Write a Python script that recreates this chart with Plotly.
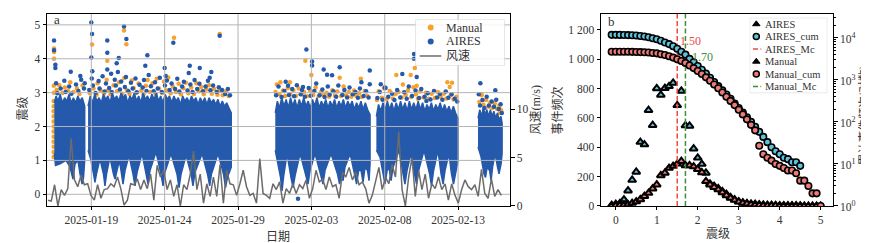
import numpy as np
import pandas as pd
import plotly.graph_objects as go

W, H = 869, 243
FONT = "Liberation Serif, Noto Sans CJK SC, serif"
TXT = "#333333"
BLUE = "#2459ab"
ORANGE = "#f9a12b"
GRID = "#b4b4b4"

# ---------------- panel a data ----------------
T0 = pd.Timestamp("2025-01-15 23:30")          # day offsets below are counted from here
X_RANGE = ["2025-01-15 23:30", "2025-02-16 12:55"]
date_ticks = ["2025-01-19", "2025-01-24", "2025-01-29", "2025-02-03", "2025-02-08", "2025-02-13"]
mag_ticks = [0, 1, 2, 3, 4, 5]
wind_ticks = [0, 5, 10]

wind_start, wind_end = "2025-01-16 01:05", "2025-02-15 22:45"
wind_speed = [0.6, 0.5, 2.2, 0.0, 1.7, 1.1, 1.8, 7.0, 2.7, 2.0, 3.2, 2.2, 2.3, 1.1, 0.6, 2.2,
              0.8, 1.7, 1.8, 2.3, 2.0, 3.0, 1.8, 0.1, 0.6, 2.3, 2.2, 2.8, 1.7, 2.7, 1.8, 3.3,
              0.6, 4.2, 3.0, 3.7, 1.7, 2.7, 1.0, 2.2, 0.0, 2.2, 1.7, 3.3, 5.7, 1.7, 3.3, 0.3,
              2.3, 1.0, 3.0, 1.0, 4.3, 0.3, 3.7, 2.3, 2.2, 1.1, 2.3, 3.7, 2.0, 1.1, 1.3, 0.3,
              4.9, 1.3, 1.1, 0.8, 2.3, 1.7, 2.5, 0.3, 1.8, 1.3, 2.3, 1.3, 2.2, 1.8, 2.7, 0.8,
              1.8, 3.7, 2.5, 2.8, 1.7, 3.0, 2.0, 2.2, 0.8, 3.5, 3.0, 4.0, 2.7, 3.5, 2.2, 2.5,
              1.8, 0.3, 1.1, 2.7, 4.0, 1.7, 3.0, 2.3, 4.3, 3.0, 7.7, 1.7, 0.0, 3.0, 5.0, 1.0,
              3.7, 1.7, 3.3, 0.8, 2.3, 1.8, 3.0, 1.7, 2.3, 0.6, 2.3, 1.1, 0.3, 1.7, 2.7, 2.0,
              1.7, 2.2, 1.0, 3.8, 1.3, 0.8, 2.8, 1.0, 1.7, 1.1]

# outlines of the dense AIRES event clouds: (day offset, magnitude)
cloud_1a_top = [(0.50, 2.7), (0.62, 2.9), (0.75, 2.75), (0.90, 2.95), (1.05, 2.7), (1.20, 2.85), (1.35, 2.75),
                (1.50, 2.95), (1.65, 2.7), (1.80, 2.85), (1.95, 2.7), (2.10, 2.9), (2.25, 2.75), (2.40, 2.85),
                (2.57, 2.6)]
cloud_1a_bottom = [(0.50, 1.2), (0.58, 0.85), (0.89, 0.9), (1.30, 1.0), (1.57, 0.8), (1.77, 0.45), (1.91, 0.9),
                   (2.11, 1.0), (2.25, 0.6), (2.39, 0.3), (2.49, 0.5), (2.57, 1.0)]
cloud_1b_top = [(2.80, 2.6), (2.95, 2.9), (3.10, 2.7), (3.25, 2.95), (3.40, 2.75), (3.55, 2.85), (3.70, 2.7),
                (3.85, 2.95), (4.00, 2.8), (4.15, 2.9), (4.30, 2.7), (4.45, 3.0), (4.60, 2.8), (4.75, 2.9),
                (4.90, 2.75), (5.05, 3.0), (5.20, 2.85), (5.35, 2.95), (5.50, 2.7), (5.65, 2.9), (5.80, 2.8),
                (5.95, 3.0), (6.10, 2.75), (6.25, 2.9), (6.40, 2.7), (6.55, 3.0), (6.70, 2.8), (6.85, 2.9),
                (7.00, 2.75), (7.15, 2.95), (7.30, 2.8), (7.45, 3.0), (7.60, 2.75), (7.75, 2.9), (7.90, 2.7),
                (8.05, 2.95), (8.20, 2.8), (8.35, 2.9), (8.50, 2.7), (8.65, 2.9), (8.80, 2.75), (8.95, 2.85),
                (9.10, 2.65), (9.25, 2.9), (9.40, 2.75), (9.55, 2.85), (9.70, 2.7), (9.85, 2.9), (10.00, 2.75),
                (10.15, 2.85), (10.30, 2.65), (10.45, 2.85), (10.60, 2.7), (10.75, 2.85), (10.90, 2.65),
                (11.05, 2.85), (11.20, 2.7), (11.35, 2.8), (11.50, 2.65), (11.65, 2.8), (11.80, 2.6),
                (11.95, 2.75), (12.10, 2.6), (12.25, 2.7), (12.40, 2.55), (12.56, 2.4)]
cloud_1b_bottom = [(2.80, 1.3), (3.00, 1.0), (3.17, 0.6), (3.27, 0.35), (3.37, 0.6), (3.61, 1.05), (3.85, 0.6),
                   (3.95, 0.25), (4.06, 0.6), (4.29, 1.1), (4.53, 0.6), (4.64, 0.45), (4.77, 0.7), (4.94, 1.0),
                   (5.08, 0.6), (5.18, 0.3), (5.32, 0.7), (5.59, 1.15), (5.86, 0.6), (6.00, 0.25), (6.14, 0.65),
                   (6.48, 1.2), (6.75, 0.6), (6.89, 0.3), (7.02, 0.7), (7.43, 1.25), (7.77, 0.6), (7.91, 0.25),
                   (8.04, 0.65), (8.45, 1.2), (8.86, 0.6), (9.00, 0.2), (9.14, 0.6), (9.48, 1.15), (9.82, 0.6),
                   (9.95, 0.25), (10.09, 0.65), (10.57, 1.2), (10.94, 0.6), (11.09, 0.25), (11.21, 0.6),
                   (11.66, 1.2), (12.03, 0.6), (12.17, 0.2), (12.30, 0.5), (12.56, 0.8)]
cloud_2_top = [(15.56, 2.4), (15.70, 2.75), (15.85, 2.55), (16.00, 2.85), (16.15, 2.6), (16.30, 2.8),
               (16.45, 2.55), (16.60, 2.85), (16.75, 2.6), (16.90, 2.8), (17.05, 2.55), (17.20, 2.8),
               (17.35, 2.6), (17.50, 2.85), (17.65, 2.6), (17.80, 2.75), (17.95, 2.55), (18.10, 2.8),
               (18.25, 2.6), (18.40, 2.85), (18.55, 2.55), (18.70, 2.75), (18.85, 2.6), (19.00, 2.8),
               (19.15, 2.55), (19.30, 2.75), (19.45, 2.6), (19.60, 2.8), (19.75, 2.55), (19.90, 2.75),
               (20.05, 2.6), (20.20, 2.8), (20.35, 2.55), (20.50, 2.75), (20.65, 2.6), (20.80, 2.75),
               (20.95, 2.5), (21.10, 2.7), (21.25, 2.55), (21.40, 2.75), (21.55, 2.5), (21.70, 2.7),
               (21.85, 2.5), (22.02, 2.35)]
cloud_2_bottom = [(15.56, 1.3), (15.75, 0.9), (15.92, 0.5), (16.02, 0.1), (16.12, 0.5), (16.36, 1.2),
                  (16.63, 0.5), (16.77, 0.2), (16.91, 0.55), (17.25, 1.2), (17.62, 0.6), (17.79, 0.3),
                  (17.93, 0.7), (18.27, 1.2), (18.64, 0.6), (18.81, 0.3), (18.95, 0.7), (19.36, 1.2),
                  (19.80, 0.6), (19.94, 0.3), (20.08, 0.6), (20.18, 0.4), (20.31, 0.8), (20.66, 1.2),
                  (20.96, 0.6), (21.10, 0.3), (21.24, 0.7), (21.41, 0.7), (21.54, 0.35), (21.68, 0.8),
                  (21.85, 0.7), (21.95, 0.4), (22.02, 0.9)]
cloud_3_top = [(22.45, 2.3), (22.60, 2.65), (22.75, 2.45), (22.90, 2.7), (23.05, 2.5), (23.20, 2.75),
               (23.35, 2.5), (23.50, 2.7), (23.65, 2.45), (23.80, 2.7), (23.95, 2.5), (24.10, 2.75),
               (24.25, 2.5), (24.40, 2.7), (24.55, 2.45), (24.70, 2.75), (24.85, 2.5), (25.00, 2.7),
               (25.15, 2.5), (25.30, 2.75), (25.45, 2.5), (25.60, 2.7), (25.75, 2.45), (25.90, 2.65),
               (26.05, 2.5), (26.20, 2.7), (26.35, 2.45), (26.50, 2.65), (26.65, 2.5), (26.80, 2.7),
               (26.95, 2.45), (27.10, 2.65), (27.25, 2.45), (27.40, 2.6), (27.55, 2.4), (27.70, 2.6),
               (27.85, 2.4), (28.02, 2.25)]
cloud_3_bottom = [(22.45, 1.3), (22.70, 1.1), (22.91, 0.6), (23.04, 0.3), (23.18, 0.7), (23.31, 0.8),
                  (23.45, 0.4), (23.59, 0.8), (24.00, 1.3), (24.27, 0.6), (24.40, 0.3), (24.54, 0.7),
                  (24.81, 1.2), (25.05, 0.6), (25.19, 0.3), (25.33, 0.7), (25.70, 1.3), (26.08, 0.6),
                  (26.21, 0.25), (26.35, 0.7), (26.65, 1.3), (26.86, 0.6), (27.00, 0.3), (27.13, 0.7),
                  (27.40, 1.2), (27.57, 0.6), (27.71, 0.3), (27.85, 0.6), (28.02, 1.0)]
cloud_4_top = [(29.38, 2.25), (29.50, 2.5), (29.62, 2.3), (29.74, 2.55), (29.86, 2.35), (29.98, 2.5),
               (30.10, 2.3), (30.22, 2.5), (30.34, 2.3), (30.46, 2.45), (30.58, 2.25), (30.70, 2.4),
               (30.82, 2.2), (30.94, 2.3), (31.02, 2.1)]
cloud_4_bottom = [(29.38, 1.4), (29.59, 1.1), (29.79, 0.6), (29.89, 0.5), (30.00, 0.8), (30.17, 0.7),
                  (30.27, 0.4), (30.37, 0.8), (30.54, 1.2), (30.71, 0.8), (30.81, 0.6), (30.95, 0.9),
                  (31.02, 1.2)]

# scattered events outside the dense clouds: (day offset, magnitude)
aires_points = [(0.48, 4.54), (0.48, 4.25), (0.57, 3.82), (0.57, 3.73), (1.62, 3.62), (2.27, 3.49),
                (2.57, 3.28), (3.02, 5.07), (3.07, 4.73), (3.02, 4.04), (3.09, 3.63), (4.11, 4.54),
                (4.11, 4.18), (4.11, 3.68), (5.25, 4.95), (5.41, 4.58), (4.89, 4.02), (4.75, 3.87),
                (6.84, 4.10), (6.70, 3.79), (8.02, 3.73), (8.61, 4.47), (8.09, 3.49), (9.73, 3.79),
                (9.66, 3.58), (11.77, 4.68), (10.41, 3.73), (11.20, 3.61), (11.09, 3.44), (17.68, 4.27),
                (18.07, 3.92), (18.07, 3.80), (18.86, 3.68), (19.09, 3.53), (19.43, 3.51), (19.95, 3.75),
                (17.45, 3.17), (16.43, 3.20), (21.43, 3.31), (22.00, 3.65), (22.00, 3.25), (22.75, 3.25),
                (23.02, 3.15), (24.22, 3.55), (25.02, 4.14), (25.02, 4.00), (25.20, 3.46), (25.86, 2.75),
                (29.54, 3.28), (30.56, 3.07), (17.11, -0.13),
                (0.62, 3.28), (0.71, 2.98), (0.93, 3.12), (1.18, 3.35), (1.27, 3.02), (1.51, 3.18),
                (1.66, 2.97), (1.98, 3.24), (2.14, 3.05), (2.33, 3.38), (2.52, 3.12), (2.88, 3.08),
                (3.05, 3.42), (3.13, 3.21), (3.31, 2.99), (3.52, 3.34), (3.58, 3.12), (3.79, 3.48),
                (3.93, 3.03), (4.02, 3.27), (4.24, 3.14), (4.37, 3.56), (4.41, 3.02), (4.62, 3.38),
                (4.69, 3.21), (4.83, 3.61), (4.97, 3.09), (5.06, 3.33), (5.31, 3.17), (5.38, 3.46),
                (5.55, 3.04), (5.72, 3.29), (5.84, 3.12), (6.03, 3.42), (6.12, 3.01), (6.31, 3.23),
                (6.52, 3.15), (6.61, 3.37), (6.78, 3.05), (6.93, 3.52), (7.08, 3.19), (7.27, 3.04),
                (7.36, 3.31), (7.55, 3.12), (7.69, 3.44), (7.82, 3.02), (8.04, 3.21), (8.17, 3.36),
                (8.36, 3.08), (8.49, 3.27), (8.73, 3.11), (8.88, 3.41), (9.02, 3.03), (9.21, 3.18),
                (9.33, 3.32), (9.58, 3.06), (9.77, 3.24), (9.92, 3.02), (10.06, 3.37), (10.24, 3.11),
                (10.39, 3.26), (10.63, 3.04), (10.81, 3.18), (10.97, 3.35), (11.14, 3.07), (11.32, 3.21),
                (11.57, 3.02), (11.71, 3.16), (11.93, 3.08), (12.14, 2.96), (12.33, 3.11), (12.47, 2.92),
                (15.62, 2.92), (15.78, 3.18), (15.99, 2.87), (16.18, 3.05), (16.27, 3.32), (16.49, 2.93),
                (16.71, 3.11), (16.84, 2.89), (17.03, 3.22), (17.29, 2.95), (17.38, 3.08), (17.57, 2.88),
                (17.84, 3.14), (17.97, 2.91), (18.22, 3.05), (18.35, 3.27), (18.58, 2.92), (18.77, 3.09),
                (18.92, 2.87), (19.14, 3.18), (19.27, 2.94), (19.52, 3.04), (19.71, 2.88), (19.86, 3.21),
                (20.13, 2.93), (20.27, 3.08), (20.46, 2.86), (20.62, 3.15), (20.84, 2.95), (21.02, 3.02),
                (21.19, 2.85), (21.33, 3.12), (21.58, 2.90), (21.75, 3.04), (21.92, 2.86),
                (22.52, 2.84), (22.68, 3.02), (22.87, 2.79), (23.08, 3.14), (23.26, 2.88), (23.52, 2.97),
                (23.68, 2.78), (23.87, 3.08), (24.08, 2.86), (24.35, 3.01), (24.52, 2.82), (24.66, 3.18),
                (24.88, 2.90), (25.12, 3.06), (25.36, 2.84), (25.51, 3.11), (25.74, 2.88), (25.95, 2.98),
                (26.14, 2.80), (26.38, 3.05), (26.59, 2.86), (26.78, 2.96), (26.95, 2.79), (27.18, 3.03),
                (27.36, 2.85), (27.58, 2.95), (27.79, 2.82), (27.96, 2.74),
                (29.43, 2.95), (29.52, 2.62), (29.68, 2.78), (29.81, 2.55), (29.97, 2.88), (30.12, 2.62),
                (30.31, 2.74), (30.47, 2.58), (30.62, 2.79), (30.79, 2.52), (30.92, 2.66), (31.00, 2.40)]
manual_points = [(0.48, 4.30), (0.48, 4.20), (0.48, 4.00), (3.07, 4.42), (4.11, 3.94), (5.25, 4.83),
                 (5.41, 4.43), (8.66, 4.62), (11.77, 4.73), (17.61, 3.94), (18.02, 3.52), (19.95, 3.44),
                 (16.56, 3.31), (21.39, 3.41), (23.81, 3.52), (24.79, 3.52), (25.07, 3.73), (25.20, 3.20),
                 (27.29, 3.31), (27.61, 3.29), (27.45, 3.17), (29.61, 2.96), (30.86, 2.52), (30.86, 2.40),
                 (0.45, 1.10), (0.45, 1.25), (0.46, 1.40), (0.45, 1.55), (0.46, 1.70), (0.45, 1.85),
                 (0.46, 2.00), (0.45, 2.15), (0.46, 2.30), (0.45, 2.45), (0.46, 2.60), (0.45, 2.75),
                 (0.47, 3.00), (0.46, 3.20),
                 (0.66, 3.08), (0.84, 3.22), (1.05, 2.99), (1.22, 3.15), (1.44, 3.05), (1.58, 3.31),
                 (1.81, 3.02), (2.04, 3.12), (2.21, 2.96), (2.42, 3.21), (2.93, 2.98), (3.17, 3.12),
                 (3.38, 2.94), (3.45, 3.28), (3.66, 3.06), (3.88, 2.97), (4.07, 3.38), (4.18, 3.08),
                 (4.33, 2.95), (4.54, 3.22), (4.77, 3.04), (4.92, 3.31), (5.12, 2.97), (5.27, 3.43),
                 (5.44, 3.08), (5.63, 2.96), (5.77, 3.36), (5.91, 3.14), (6.07, 2.99), (6.24, 3.27),
                 (6.43, 3.06), (6.58, 2.95), (6.74, 3.20), (6.86, 3.37), (7.03, 3.02), (7.19, 3.28),
                 (7.41, 2.97), (7.48, 3.41), (7.63, 3.12), (7.86, 2.99), (7.97, 3.33), (8.12, 3.07),
                 (8.27, 3.45), (8.43, 2.98), (8.58, 3.18), (8.79, 3.02), (8.97, 3.26), (9.13, 2.95),
                 (9.29, 3.13), (9.46, 3.29), (9.64, 2.98), (9.83, 3.15), (10.02, 2.96), (10.18, 3.28),
                 (10.34, 3.04), (10.51, 3.17), (10.69, 2.95), (10.86, 3.09), (11.04, 3.22), (11.23, 2.97),
                 (11.39, 3.11), (11.62, 2.94), (11.77, 3.06), (11.98, 2.92), (12.19, 3.04), (12.38, 2.90),
                 (15.58, 3.02), (15.67, 3.24), (15.84, 2.95), (15.91, 3.31), (16.08, 3.06), (16.23, 2.90),
                 (16.41, 3.14), (16.58, 2.96), (16.79, 3.07), (16.97, 2.90), (17.16, 3.12), (17.34, 2.95),
                 (17.52, 3.02), (17.71, 2.89), (17.92, 3.08), (18.15, 2.93), (18.31, 3.15), (18.52, 2.90),
                 (18.69, 3.02), (18.86, 2.92), (19.05, 3.00), (19.22, 2.88), (19.45, 3.07), (19.63, 2.91),
                 (19.79, 3.03), (20.05, 2.90), (20.22, 3.18), (20.39, 2.92), (20.57, 3.02), (20.74, 2.88),
                 (20.93, 3.06), (21.08, 2.91), (21.27, 2.98), (21.46, 2.87), (21.66, 3.05), (21.84, 2.90),
                 (22.49, 2.78), (22.61, 3.04), (22.82, 2.85), (22.97, 3.12), (23.16, 2.81), (23.36, 3.05),
                 (23.57, 2.83), (23.76, 2.96), (23.95, 3.02), (24.17, 2.86), (24.26, 3.24), (24.45, 2.93),
                 (24.61, 3.08), (24.83, 2.87), (24.98, 3.16), (25.15, 2.95), (25.28, 2.82), (25.45, 3.03),
                 (25.66, 2.86), (25.83, 3.00), (26.02, 2.82), (26.22, 2.97), (26.44, 2.84), (26.63, 3.02),
                 (26.83, 2.88), (27.04, 2.97), (27.22, 2.83), (27.51, 2.92), (27.71, 2.80), (27.90, 2.88),
                 (29.47, 2.72), (29.63, 2.92), (29.75, 2.64), (29.93, 2.78), (30.08, 2.58), (30.22, 2.71),
                 (30.36, 2.55), (30.52, 2.68), (30.68, 2.52), (30.83, 2.62), (30.95, 2.48)]

# ---------------- panel b data ----------------
mag_bins = [-0.1, 0.0, 0.1, 0.2, 0.3, 0.4, 0.5, 0.6, 0.7, 0.8, 0.9, 1.0, 1.1, 1.2, 1.3, 1.4, 1.5,
            1.6, 1.7, 1.8, 1.9, 2.0, 2.1, 2.2, 2.3, 2.4, 2.5, 2.6, 2.7, 2.8, 2.9, 3.0, 3.1, 3.2,
            3.3, 3.4, 3.5, 3.6, 3.7, 3.8, 3.9, 4.0, 4.1, 4.2, 4.3, 4.4, 4.5, 4.6, 4.7, 4.8, 4.9, 5.0]
aires_count = [5, 12, 18, 44, 104, 177, 232, 435, 418, 652, 550, 800, 756, 802, 815, 838, 685, 783,
               548, 545, 390, 328, 285, 225, 150, 135, 120, 100, 80, 58, 44, 30, 22, 18, 14, 12, 9,
               7, 6, 5, 4, 3, 3, 2, 2, 2, 1]
manual_count = [0, 2, 4, 6, 10, 20, 30, 45, 67, 88, 118, 145, 208, 225, 258, 272, 287, 305, 276,
                276, 268, 250, 228, 168, 145, 128, 112, 92, 72, 54, 40, 28, 20, 15, 10, 8, 6, 3, 2,
                2, 2, 1, 1, 0, 0, 1, 1, 1, 0, 1, 0, 1]
aires_cum = [11750, 11750, 11740, 11640, 11590, 11480, 11350, 11090, 10720, 10350, 9770, 9230, 8510,
             7760, 7080, 6310, 5500, 4680, 3980, 3160, 2630, 2140, 1740, 1410, 1120, 890, 708, 562,
             447, 355, 275, 214, 166, 129, 100, 76, 58, 44, 33, 25, 20, 17, 14, 13, 11, 11, 9]
manual_cum = [4680, 4680, 4680, 4670, 4656, 4634, 4603, 4571, 4519, 4467, 4365, 4266, 4074, 3890,
              3631, 3388, 3090, 2818, 2512, 2188, 1905, 1622, 1380, 1148, 955, 776, 631, 501, 398,
              316, 251, 195, 151, 115, 85, 63, 27, 17, 14, 12, 10, 9, 8, 7, 7, 6, 4, 4, 3, 2, 2, 1]
mc_aires, mc_manual = 1.50, 1.70
count_ticks = [0, 200, 400, 600, 800, 1000, 1200]
count_ticktext = ["0", "200", "400", "600", "800", "1 000", "1 200"]
cum_ticks = [1, 10, 100, 1000, 10000]
cum_exponents = ["0", "1", "2", "3", "4"]

RED, GREEN = "#ee4a3f", "#3b8f3b"
SKY, SALMON = "#5ec4de", "#ee7b78"


def at_days(offsets):
    return T0 + pd.to_timedelta(np.asarray(offsets, dtype=float), unit="D")


fig = go.Figure()

# ---- panel a ----
mt, mm = zip(*manual_points)
fig.add_trace(go.Scatter(x=at_days(mt), y=mm, mode="markers", xaxis="x", yaxis="y",
                         marker=dict(size=4.5, color=ORANGE), hoverinfo="skip"))
for top, bottom in [(cloud_1a_top, cloud_1a_bottom), (cloud_1b_top, cloud_1b_bottom),
                    (cloud_2_top, cloud_2_bottom), (cloud_3_top, cloud_3_bottom),
                    (cloud_4_top, cloud_4_bottom)]:
    pts = list(top) + list(reversed(bottom))
    pt, pm = zip(*pts)
    fig.add_trace(go.Scatter(x=at_days(pt), y=pm, mode="lines", fill="toself", fillcolor=BLUE,
                             line=dict(color=BLUE, width=1.5), xaxis="x", yaxis="y", hoverinfo="skip"))
at, am = zip(*aires_points)
fig.add_trace(go.Scatter(x=at_days(at), y=am, mode="markers", xaxis="x", yaxis="y",
                         marker=dict(size=4.5, color=BLUE), hoverinfo="skip"))
# grid lines above the scatter (as in the source)
gx, gy = [], []
for d in date_ticks:
    gx += [pd.Timestamp(d), pd.Timestamp(d), None]
    gy += [-1, 6, None]
fig.add_trace(go.Scatter(x=gx, y=gy, mode="lines", line=dict(color=GRID, width=1),
                         xaxis="x", yaxis="y", hoverinfo="skip"))
hx, hy = [], []
for m in mag_ticks:
    hx += [pd.Timestamp(X_RANGE[0]), pd.Timestamp(X_RANGE[1]), None]
    hy += [m, m, None]
fig.add_trace(go.Scatter(x=hx, y=hy, mode="lines", line=dict(color=GRID, width=1),
                         xaxis="x", yaxis="y", hoverinfo="skip"))
wind_t = pd.date_range(wind_start, wind_end, periods=len(wind_speed))
fig.add_trace(go.Scatter(x=wind_t, y=wind_speed, mode="lines", xaxis="x", yaxis="y2",
                         line=dict(color="#6b6b6b", width=1.5), hoverinfo="skip"))

# ---- panel b ----
fig.add_trace(go.Scatter(x=mag_bins[:len(aires_count)], y=aires_count, mode="markers", xaxis="x3", yaxis="y3",
                         marker=dict(symbol="triangle-up", size=7, color=SKY, line=dict(color="black", width=2)),
                         hoverinfo="skip"))
fig.add_trace(go.Scatter(x=mag_bins[:len(manual_count)], y=manual_count, mode="markers", xaxis="x3", yaxis="y3",
                         marker=dict(symbol="triangle-up", size=7, color=SALMON, line=dict(color="black", width=2)),
                         hoverinfo="skip"))
for mc, col in [(mc_aires, RED), (mc_manual, GREEN)]:
    fig.add_trace(go.Scatter(x=[mc, mc], y=[0, 1400], mode="lines", xaxis="x3", yaxis="y3",
                             line=dict(color=col, width=1.5, dash="5px,2.5px"), hoverinfo="skip"))
fig.add_trace(go.Scatter(x=mag_bins[:len(aires_cum)], y=aires_cum, mode="markers", xaxis="x3", yaxis="y4",
                         marker=dict(symbol="circle", size=6.5, color=SKY, line=dict(color="black", width=1.6)),
                         hoverinfo="skip"))
fig.add_trace(go.Scatter(x=mag_bins[:len(manual_cum)], y=manual_cum, mode="markers", xaxis="x3", yaxis="y4",
                         marker=dict(symbol="circle", size=6.5, color=SALMON, line=dict(color="black", width=1.6)),
                         hoverinfo="skip"))

# ---- legends (drawn on helper axes, coordinates in px inside the box) ----
LA = dict(x0=407.3, x1=496.7, y0=11.7, y1=59.3)
LB = dict(x0=741.7, x1=819.3, y0=10.0, y1=87.3)


def box_trace(L, xa, ya):
    w, h = L["x1"] - L["x0"], L["y1"] - L["y0"]
    return go.Scatter(x=[0, w, w, 0, 0], y=[0, 0, h, h, 0], mode="lines", fill="toself",
                      fillcolor="rgba(255,255,255,0.85)", line=dict(color="#d4d4d4", width=1),
                      xaxis=xa, yaxis=ya, hoverinfo="skip")


fig.add_trace(box_trace(LA, "x5", "y5"))
fig.add_trace(go.Scatter(x=[15.4], y=[8.3], mode="markers", marker=dict(size=6, color=ORANGE),
                         xaxis="x5", yaxis="y5", hoverinfo="skip"))
fig.add_trace(go.Scatter(x=[15.4], y=[22.6], mode="markers", marker=dict(size=6, color=BLUE),
                         xaxis="x5", yaxis="y5", hoverinfo="skip"))
fig.add_trace(go.Scatter(x=[4.4, 26], y=[37.6, 37.6], mode="lines", line=dict(color="#6b6b6b", width=1.5),
                         xaxis="x5", yaxis="y5", hoverinfo="skip"))

fig.add_trace(box_trace(LB, "x6", "y6"))
rows_b = [6.5, 19.3, 32.1, 44.9, 57.7, 70.5]
fig.add_trace(go.Scatter(x=[6.6], y=[rows_b[0]], mode="markers",
                         marker=dict(symbol="triangle-up", size=6.5, color="black", line=dict(color="black", width=1)),
                         xaxis="x6", yaxis="y6", hoverinfo="skip"))
fig.add_trace(go.Scatter(x=[6.6], y=[rows_b[1]], mode="markers",
                         marker=dict(size=6, color=SKY, line=dict(color="black", width=1.5)),
                         xaxis="x6", yaxis="y6", hoverinfo="skip"))
fig.add_trace(go.Scatter(x=[3.3, 11.6], y=[rows_b[2]] * 2, mode="lines",
                         line=dict(color=RED, width=1.5, dash="5px,2.5px"), xaxis="x6", yaxis="y6", hoverinfo="skip"))
fig.add_trace(go.Scatter(x=[6.6], y=[rows_b[3]], mode="markers",
                         marker=dict(symbol="triangle-up", size=6.5, color="black", line=dict(color="black", width=1)),
                         xaxis="x6", yaxis="y6", hoverinfo="skip"))
fig.add_trace(go.Scatter(x=[6.6], y=[rows_b[4]], mode="markers",
                         marker=dict(size=6, color=SALMON, line=dict(color="black", width=1.5)),
                         xaxis="x6", yaxis="y6", hoverinfo="skip"))
fig.add_trace(go.Scatter(x=[3.3, 11.6], y=[rows_b[5]] * 2, mode="lines",
                         line=dict(color=GREEN, width=1.5, dash="5px,2.5px"), xaxis="x6", yaxis="y6", hoverinfo="skip"))

ann = []


def text(x, y, s, size=12, color=TXT, xanchor="center", yanchor="middle", angle=0, xref="paper", yref="paper"):
    if xref == "paper":
        x = x / W
    if yref == "paper":
        y = 1 - y / H
    ann.append(dict(x=x, y=y, xref=xref, yref=yref, text=s, showarrow=False, textangle=angle,
                    xanchor=xanchor, yanchor=yanchor, font=dict(family=FONT, size=size, color=color)))


text(28.7, 8.3, "Manual", 12, xanchor="left", xref="x5", yref="y5")
text(28.7, 22.6, "AIRES", 12, xanchor="left", xref="x5", yref="y5")
text(28.7, 37.6, "风速", 12, xanchor="left", xref="x5", yref="y5")
for r, s in zip(rows_b, ["AIRES", "AIRES_cum", "AIRES_Mc", "Manual", "Manual_cum", "Manual_Mc"]):
    text(13.3, r, s, 10.5, xanchor="left", xref="x6", yref="y6")

# log-axis tick labels (annotation y on a log axis is given as log10 of the value)
for v, e in zip(cum_ticks, cum_exponents):
    text(829.5, float(np.log10(v)), "10<sup>%s</sup>" % e, 11.5, xanchor="left", yref="y4")

text(44, 12, "a", 13, xanchor="left")
text(598, 14, "b", 13, xanchor="left")
text(15, 103, "震级", 12, angle=-90)
text(270, 235, "日期", 12)
text(528, 105, "风速(m/s)", 12, angle=-90)
text(550, 105, "事件频次", 12, angle=-90)
text(856, 110, "累计事件频次(对数)", 11.5, angle=-90)
text(710, 232, "震级", 12)
text(mc_aires + 0.02, 1123, "1.50", 12, color=RED, xanchor="left", xref="x3", yref="y3")
text(mc_manual + 0.12, 1017, "1.70", 12, color=GREEN, xanchor="left", xref="x3", yref="y3")

TICKF = dict(family=FONT, size=11.5, color=TXT)
axis_common = dict(showgrid=False, zeroline=False, ticks="outside", ticklen=3.5, tickwidth=0.8,
                   tickcolor="black", showline=True, linecolor="black", linewidth=1, tickfont=TICKF)
dom_y = [40 / H, 237 / H]
hidden = dict(visible=False, fixedrange=True, showgrid=False, zeroline=False)

fig.update_layout(
    width=W, height=H, margin=dict(l=0, r=0, t=0, b=0),
    paper_bgcolor="white", plot_bgcolor="rgba(0,0,0,0)", showlegend=False,
    xaxis=dict(axis_common, domain=[39 / W, 502 / W], type="date", range=X_RANGE, anchor="y",
               tickmode="array", tickvals=date_ticks, ticktext=date_ticks, mirror=True),
    yaxis=dict(axis_common, domain=dom_y, range=[-0.345, 5.325], anchor="x",
               tickmode="array", tickvals=mag_ticks, mirror=True),
    yaxis2=dict(axis_common, overlaying="y", side="right", anchor="x", range=[0, 19.9],
                tickmode="array", tickvals=wind_ticks),
    xaxis3=dict(axis_common, domain=[593 / W, 825 / W], range=[-0.36, 5.3], anchor="y3",
                tickmode="array", tickvals=[0, 1, 2, 3, 4, 5], mirror=True),
    yaxis3=dict(axis_common, domain=dom_y, range=[0, 1308], anchor="x3",
                tickmode="array", tickvals=count_ticks, ticktext=count_ticktext, mirror=True),
    yaxis4=dict(axis_common, overlaying="y3", side="right", anchor="x3", type="log", range=[0, 4.57],
                tickmode="array", tickvals=cum_ticks, showticklabels=False,
                minor=dict(ticks="outside", ticklen=2, tickcolor="black",
                           tickvals=[k * 10 ** e for e in range(0, 5) for k in range(2, 10)])),
    xaxis5=dict(hidden, domain=[LA["x0"] / W, LA["x1"] / W], range=[0, LA["x1"] - LA["x0"]], anchor="y5"),
    yaxis5=dict(hidden, domain=[1 - LA["y1"] / H, 1 - LA["y0"] / H], range=[LA["y1"] - LA["y0"], 0], anchor="x5"),
    xaxis6=dict(hidden, domain=[LB["x0"] / W, LB["x1"] / W], range=[0, LB["x1"] - LB["x0"]], anchor="y6"),
    yaxis6=dict(hidden, domain=[1 - LB["y1"] / H, 1 - LB["y0"] / H], range=[LB["y1"] - LB["y0"], 0], anchor="x6"),
    annotations=ann,
)

fig.write_html("out.html")
